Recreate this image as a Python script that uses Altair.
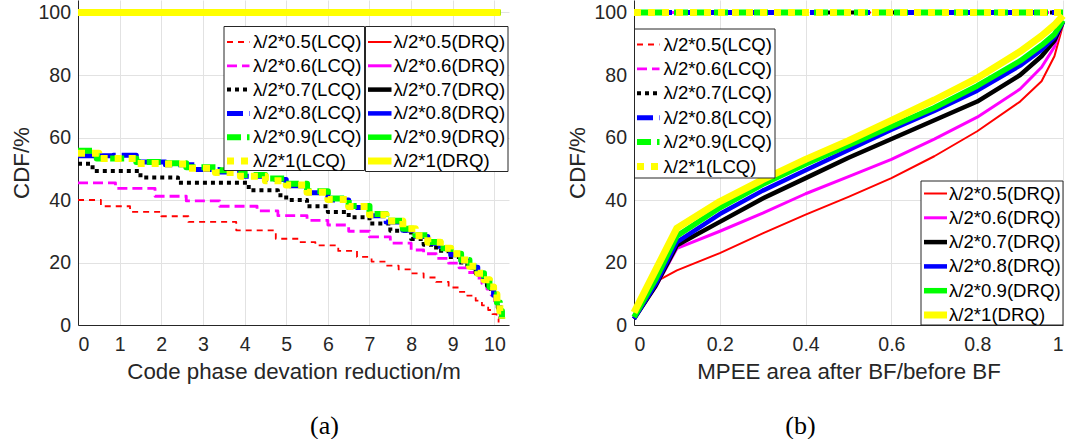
import altair as alt
import pandas as pd

# ---------------------------------------------------------------- series
FACTORS = ["0.5", "0.6", "0.7", "0.8", "0.9", "1"]
LCQ_LABELS = [f"λ/2*{f}(LCQ)" for f in FACTORS]
DRQ_LABELS = [f"λ/2*{f}(DRQ)" for f in FACTORS]

# (a) code phase deviation reduction, LCQ empirical CDF (staircase)
A_X_RED = [0, 0.55, 1.25, 2.0, 2.65, 3.8, 4.75, 5.3, 5.7, 6.25, 6.7, 7.05, 7.4, 7.7, 8.0,
           8.3, 8.6, 8.9, 9.15, 9.35, 9.55, 9.7, 9.85, 9.95, 10.05, 10.1]
A_Y_RED = [40, 38, 36.2, 34.8, 33, 30.3, 27.6, 26.5, 25.5, 23.7, 21.8, 20.3, 19, 17.8, 16.5,
           15.2, 13.8, 12.0, 10.6, 9.4, 7.8, 6.3, 4.8, 3.5, 2.0, 0.8]

A_X_MAG = [0, 0.9, 1.85, 2.6, 3.4, 4.3, 4.8, 5.5, 6.0, 6.5, 7.0, 7.5, 8.0, 8.3, 8.6, 8.9,
           9.15, 9.35, 9.55, 9.7, 9.82, 9.92, 10.0, 10.08, 10.13]
A_Y_MAG = [45.5, 43.7, 41.2, 39.7, 38, 36.5, 35, 33.5, 32, 30, 28.2, 26.2, 24, 22.8, 21.3,
           19.8, 18.3, 16.8, 15.0, 13.3, 11.5, 9.6, 7.7, 5.2, 2.0]

A_X_BLK = [0, 0.35, 1.5, 2.4, 4.1, 4.8, 5.0, 5.5, 6.0, 6.5, 7.0, 7.5, 8.0, 8.3, 8.6, 8.9,
           9.15, 9.35, 9.55, 9.7, 9.82, 9.92, 10.0, 10.08, 10.15]
A_Y_BLK = [51.6, 49.3, 47.2, 45.5, 43.1, 41.5, 40, 38, 36.2, 34.5, 32.5, 30.2, 27.5, 25.7,
           23.8, 21.8, 20.0, 18.4, 16.5, 14.6, 12.6, 10.6, 8.4, 5.5, 2.0]

A_X_BLU = [0, 0.85, 1.4, 2.1, 2.8, 3.4, 4.0, 4.5, 5.0, 5.5, 6.0, 6.5, 7.0, 7.4, 7.8, 8.1,
           8.4, 8.7, 8.95, 9.2, 9.4, 9.6, 9.75, 9.88, 9.98, 10.06, 10.13, 10.18]
A_Y_BLU = [54.2, 54.3, 52.2, 51.3, 49.8, 49.0, 47.6, 46.6, 44.6, 42.3, 40.0, 37.6, 35.0,
           33.0, 30.3, 28.3, 26.2, 24.3, 22.5, 20.5, 18.5, 16.3, 14.2, 11.9, 9.5, 6.9, 4.2, 1.8]

A_X_GRN = [0, 0.45, 1.4, 2.0, 2.6, 3.4, 4.0, 4.5, 5.0, 5.5, 6.0, 6.5, 7.0, 7.4, 7.8, 8.1,
           8.4, 8.7, 8.95, 9.2, 9.4, 9.6, 9.75, 9.88, 9.98, 10.06, 10.13, 10.18]
A_Y_GRN = [55.8, 53.3, 52.2, 51.8, 50.5, 49.5, 48.0, 46.9, 45.2, 42.8, 40.5, 38.1, 35.5,
           33.4, 30.8, 28.7, 26.6, 24.6, 22.8, 20.8, 18.8, 16.6, 14.5, 12.2, 9.8, 7.2, 4.5, 2.0]

A_X_YEL = [0, 0.5, 1.4, 2.0, 2.6, 3.3, 3.9, 4.5, 5.0, 5.5, 6.0, 6.5, 7.0, 7.4, 7.8, 8.1,
           8.4, 8.7, 8.95, 9.2, 9.4, 9.6, 9.75, 9.88, 9.98, 10.06, 10.13, 10.18]
A_Y_YEL = [55.0, 53.3, 51.7, 51.5, 50.2, 48.8, 47.6, 46.2, 44.8, 42.5, 40.2, 37.9, 35.3,
           33.3, 30.8, 28.6, 26.5, 24.6, 22.8, 20.8, 18.8, 16.6, 14.5, 12.2, 9.8, 7.2, 4.5, 2.0]

# (a) DRQ: every run reaches the full reduction
A_X_DRQ = [0, 10.15]
A_Y_DRQ = [100, 100]

# (b) MPEE area ratio, DRQ CDF
B_X_RED = [0, 0.06, 0.1, 0.2, 0.3, 0.4, 0.5, 0.6, 0.7, 0.8, 0.9, 0.95, 0.98, 1.0]
B_Y_RED = [2, 14.5, 17.5, 23, 29.3, 35.3, 41, 47, 54, 62, 71.5, 78, 86, 96]
B_X_DRQ = [0, 0.05, 0.1, 0.2, 0.3, 0.4, 0.5, 0.6, 0.7, 0.8, 0.9, 0.95, 0.98, 1.0]
B_Y_MAG = [2, 12, 24.5, 30, 35.8, 42, 47.5, 53, 59.5, 66.5, 75.5, 82.5, 89, 97]
B_Y_BLK = [2, 12.5, 25.5, 33, 40.5, 47, 53.5, 59.5, 65.5, 71.5, 80, 86, 91, 97]
B_Y_BLU = [2, 13, 26.5, 35.5, 43, 49.5, 56, 62.5, 68.5, 75, 83, 88, 92, 97]
B_Y_GRN = [2.5, 14.5, 28.5, 37.5, 45, 51.5, 57.5, 63.5, 69.5, 76.5, 84.5, 89.5, 93, 97.5]
B_Y_YEL = [4, 17.5, 31, 39.5, 46.5, 53, 59, 65.5, 72, 79, 87.5, 92.5, 96, 99]

# (b) LCQ: all at 100 %
B_X_LCQ = [0, 1]
B_Y_LCQ = [100, 100]

# ---------------------------------------------------------------- styles
COLORS = ["#ff0000", "#ff00ff", "#000000", "#0000ff", "#00ff00", "#ffff00"]
LCQ_WIDTH = [1.8, 2.8, 4, 5, 6, 7]
LCQ_DASH = [[6, 5], [10, 5], [4, 4], [16, 6], [14, 6], [7, 7]]
DRQ_WIDTH = [2, 3, 4.5, 4.5, 5.5, 7]

FONT = "Liberation Sans"
PH = 325
PW_A, PW_B = 431, 429
Y_SCALE = alt.Scale(domain=[0, 104], nice=False, zero=False)


def frame(xs, ys):
    return pd.DataFrame({"x": xs, "y": ys})


def curve(df, x_enc, y_enc, color, width, dash=None, interp="linear"):
    kw = dict(color=color, strokeWidth=width, interpolate=interp, clip=False,
              strokeJoin="round")
    if dash:
        kw["strokeDash"] = dash
    return alt.Chart(df).mark_line(**kw).encode(x=x_enc, y=y_enc)


ONE = pd.DataFrame({"k": [0]})


def legend(x0, x1, y0, y1, row0, step, sym_x0, sym_x1, text_x, labels, widths, dashes):
    layers = [
        alt.Chart(ONE).mark_rect(fill="white", stroke="#262626", strokeWidth=1).encode(
            x=alt.value(x0), x2=alt.value(x1), y=alt.value(y0), y2=alt.value(y1))
    ]
    for i, lab in enumerate(labels):
        yy = row0 + i * step
        kw = dict(color=COLORS[i], strokeWidth=widths[i])
        if dashes is not None:
            kw["strokeDash"] = dashes[i]
        layers.append(alt.Chart(ONE).mark_rule(**kw).encode(
            x=alt.value(sym_x0), x2=alt.value(sym_x1), y=alt.value(yy)))
        layers.append(alt.Chart(ONE).mark_text(
            align="left", baseline="middle", font=FONT, fontSize=18.6, color="#000000").encode(
            x=alt.value(text_x), y=alt.value(yy), text=alt.value(lab)))
    return layers


def caption(txt, xc):
    return alt.Chart(ONE).mark_text(
        align="center", baseline="middle", font="Liberation Serif", fontSize=26,
        color="#000000").encode(x=alt.value(xc), y=alt.value(426), text=alt.value(txt))


y_enc = alt.Y("y:Q", scale=Y_SCALE,
              axis=alt.Axis(values=[0, 20, 40, 60, 80, 100], title="CDF/%"))

# ---------------------------------------------------------------- panel (a)
xa = alt.X("x:Q", scale=alt.Scale(domain=[0, 10.35], nice=False, zero=False),
           axis=alt.Axis(values=list(range(11)), format="d",
                         title="Code phase devation reduction/m"))

a_series = [(A_X_RED, A_Y_RED), (A_X_MAG, A_Y_MAG), (A_X_BLK, A_Y_BLK),
            (A_X_BLU, A_Y_BLU), (A_X_GRN, A_Y_GRN), (A_X_YEL, A_Y_YEL)]
a_layers = []
for i in range(6):
    a_layers.append(curve(frame(A_X_DRQ, A_Y_DRQ), xa, y_enc, COLORS[i], DRQ_WIDTH[i]))
for i, (xs, ys) in enumerate(a_series):
    a_layers.append(curve(frame(xs, ys), xa, y_enc, COLORS[i], LCQ_WIDTH[i],
                          LCQ_DASH[i], "step-after"))
a_layers += legend(146, 286.5, 26.5, 170.5, 42, 23.8, 149, 171.5, 175,
                   LCQ_LABELS, LCQ_WIDTH, LCQ_DASH)
a_layers += legend(287.5, 430, 26.5, 171.5, 42, 23.8, 290, 313.5, 315.5,
                   DRQ_LABELS, DRQ_WIDTH, None)
a_layers.append(caption("(a)", 246.5))
panel_a = alt.layer(*a_layers).properties(width=PW_A, height=PH)

# ---------------------------------------------------------------- panel (b)
xb = alt.X("x:Q", scale=alt.Scale(domain=[0, 1], nice=False, zero=False),
           axis=alt.Axis(values=[0, 0.2, 0.4, 0.6, 0.8, 1], format=".1~f",
                         title="MPEE area after BF/before BF"))

b_series = [(B_X_RED, B_Y_RED), (B_X_DRQ, B_Y_MAG), (B_X_DRQ, B_Y_BLK),
            (B_X_DRQ, B_Y_BLU), (B_X_DRQ, B_Y_GRN), (B_X_DRQ, B_Y_YEL)]
b_layers = []
for i in range(6):
    b_layers.append(curve(frame(B_X_LCQ, B_Y_LCQ), xb, y_enc, COLORS[i], LCQ_WIDTH[i],
                          LCQ_DASH[i]))
for i, (xs, ys) in enumerate(b_series):
    b_layers.append(curve(frame(xs, ys), xb, y_enc, COLORS[i], DRQ_WIDTH[i]))
b_layers += legend(0.5, 141, 29, 178, 44.5, 24.4, 3, 25.5, 29.5,
                   LCQ_LABELS, LCQ_WIDTH, LCQ_DASH)
b_layers += legend(287, PW_B, 181, PH, 193.5, 24.3, 290, 313, 315,
                   DRQ_LABELS, DRQ_WIDTH, None)
b_layers.append(caption("(b)", 166.5))
panel_b = alt.layer(*b_layers).properties(width=PW_B, height=PH)

chart = (
    alt.hconcat(panel_a, panel_b, spacing=125, bounds="flush")
    .properties(padding={"left": 10, "top": 0, "right": 0, "bottom": 0})
    .configure_view(stroke=None)
    .configure_axis(
        domainColor="#262626", domainWidth=1, ticks=False,
        labelFont=FONT, labelFontSize=19.5, labelColor="#262626",
        titleFont=FONT, titleFontSize=22.3, titleFontWeight="normal", titleColor="#262626",
        gridColor="#e2e2e2", gridWidth=1,
    )
    .configure_axisY(labelPadding=7.5, titlePadding=4.6)
    .configure_axisX(labelPadding=10, titlePadding=7)
)

chart.save("out.html", embed_options={"renderer": "svg", "actions": False})
